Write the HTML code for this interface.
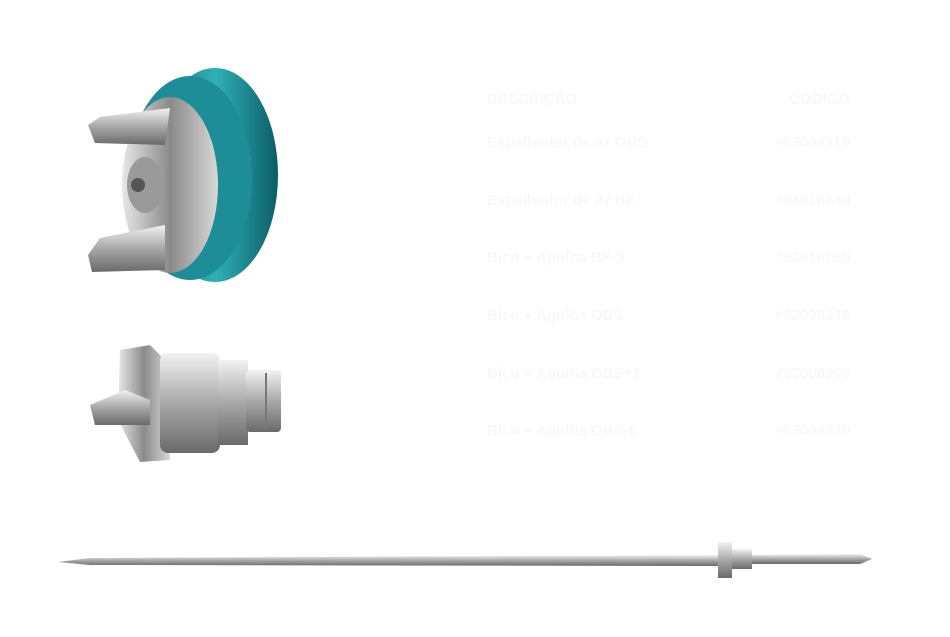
<!DOCTYPE html>
<html><head><style>
body{margin:0;width:950px;height:637px;background:#fff;overflow:hidden;position:relative;font-family:"Liberation Sans",sans-serif}
.t{position:absolute;color:#f8f8f8;font-size:15px;font-weight:bold}
.r{text-align:right;right:100px}
</style></head><body>
<svg width="950" height="637" style="position:absolute;left:0;top:0">
<defs>
<linearGradient id="teal" x1="0" x2="1"><stop offset="0" stop-color="#0e6f78"/><stop offset=".5" stop-color="#2fb0b8"/><stop offset="1" stop-color="#0b5e66"/></linearGradient>
<linearGradient id="sil" x1="0" x2="1"><stop offset="0" stop-color="#e8e8e8"/><stop offset=".5" stop-color="#8a8a8a"/><stop offset="1" stop-color="#d8d8d8"/></linearGradient>
<linearGradient id="silv" x1="0" y1="0" x2="0" y2="1"><stop offset="0" stop-color="#f2f2f2"/><stop offset=".5" stop-color="#a8a8a8"/><stop offset="1" stop-color="#6a6a6a"/></linearGradient>
</defs>
<ellipse cx="215" cy="175" rx="63" ry="107" fill="url(#teal)"/>
<ellipse cx="190" cy="178" rx="62" ry="102" fill="#1d8e98"/>
<ellipse cx="170" cy="185" rx="48" ry="88" fill="url(#sil)"/>
<ellipse cx="145" cy="185" rx="18" ry="28" fill="#9a9a9a"/>
<circle cx="138" cy="185" r="7" fill="#555"/>
<polygon points="88,125 100,117 170,108 165,145 95,143" fill="url(#silv)"/>
<polygon points="88,255 100,238 165,225 165,270 92,272" fill="url(#silv)"/>
<polygon points="120,350 150,345 165,360 170,460 140,462 118,420" fill="url(#sil)"/>
<polygon points="90,405 125,390 150,400 150,425 95,425" fill="url(#silv)"/>
<rect x="160" y="353" width="60" height="100" rx="8" fill="url(#silv)"/>
<rect x="218" y="360" width="30" height="85" fill="url(#silv)"/>
<rect x="246" y="370" width="35" height="62" rx="4" fill="url(#silv)"/>
<rect x="265" y="373" width="2" height="56" fill="#777"/>
<polygon points="58,562 90,558 720,555 720,566 90,565" fill="url(#silv)"/>
<rect x="718" y="542" width="14" height="36" fill="url(#silv)"/>
<rect x="732" y="549" width="20" height="20" fill="url(#silv)"/>
<polygon points="752,555 860,554 872,559 860,564 752,564" fill="url(#silv)"/>
</svg>
<div class="t" style="left:487px;top:91px">DESCRIÇÃO</div><div class="t r" style="top:91px">CÓDIGO</div>
<div class="t" style="left:487px;top:134px">Espalhador de Ar OBS</div><div class="t r" style="top:134px">#93008310</div>
<div class="t" style="left:487px;top:192px">Espalhador de Ar BF</div><div class="t r" style="top:192px">#93018140</div>
<div class="t" style="left:487px;top:249px">Bico + Agulha BF-5</div><div class="t r" style="top:249px">#93018150</div>
<div class="t" style="left:487px;top:307px">Bico + Agulha OBS</div><div class="t r" style="top:307px">#93008340</div>
<div class="t" style="left:487px;top:365px">Bico + Agulha OBS+1</div><div class="t r" style="top:365px">#93008990</div>
<div class="t" style="left:487px;top:422px">Bico + Agulha OBS-0</div><div class="t r" style="top:422px">#93008930</div>
</body></html>
